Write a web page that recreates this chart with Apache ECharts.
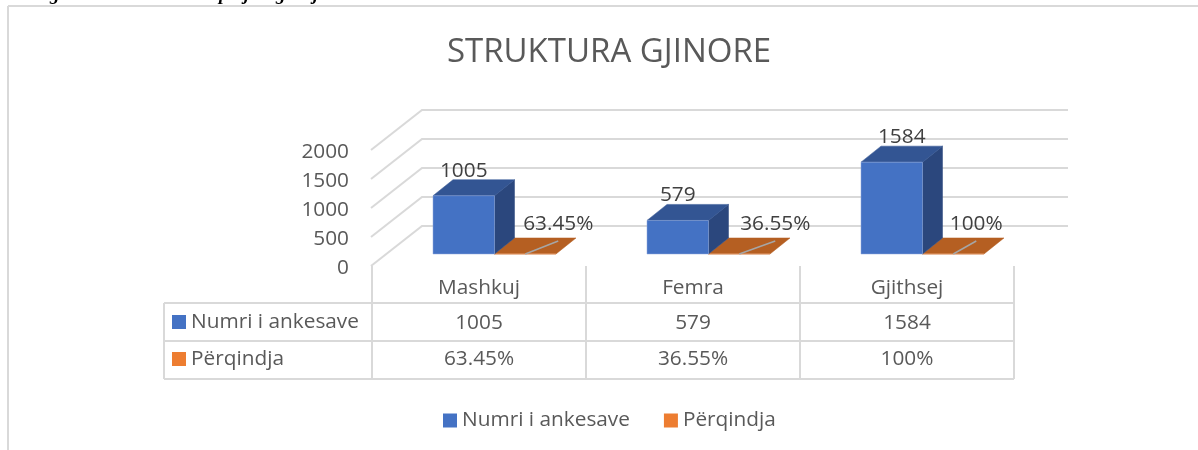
<!DOCTYPE html>
<html>
<head>
<meta charset="utf-8">
<title>STRUKTURA GJINORE</title>
<style>
  html, body { margin: 0; padding: 0; background: #fff; }
  #chart { width: 1198px; height: 450px; }
</style>
<script src="https://cdn.jsdelivr.net/npm/echarts@6/dist/echarts.min.js"></script>
</head>
<body>
<div id="chart"></div>
<script>
// data
const categories = ["Mashkuj", "Femra", "Gjithsej"];
const ankesaValues = [1005, 579, 1584];
const perqindjaValues = [0.6345, 0.3655, 1];
const perqindjaLabels = ["63.45%", "36.55%", "100%"];
const yTicks = [0, 500, 1000, 1500, 2000];
const seriesNames = ["Numri i ankesave", "Përqindja"];
// only the descenders of the caption above the chart are in the crop
const captionLetters = ["g", "p", "j", "g", "j"];

// look
const FONT = "'Open Sans', sans-serif";
const FONT_SIZE = 20.8;
const TEXT = "#595959";
const LABEL = "#404040";
const LINE = "#d9d9d9";
const BLUE = { legend: "#4472C4", front: "#4472C4", top: "#335593", side: "#2B477D", edge: "rgba(143,170,220,0.5)" };
const ORANGE = { legend: "#ED7D31", top: "#B55F22", edge: "#e8a070" };

// layout of the fake 3d box, in px
const GRID = { left: 372, top: 150, width: 642, height: 116 };
const WALL_DX = 51, WALL_DY = 40, WALL_RIGHT = 1068;
const BAR_SHIFT_X = 15.5, BAR_SHIFT_Y = 12, BAR_DX = 20, BAR_DY = 16, BAR_W = 61.5;
const TABLE_ROWS = [303, 341, 379], TABLE_LEFT = 164;
const CAPTION_X = [50, 219, 244, 276, 313];
const Y_LABEL_RIGHT = 349;
// excel moved the labels around a bit, offsets from the front face centre
const ankesaLabelDx = [0, 0, 10];
const perqindjaLabelDx = [33, 36, 23];

function textEl(x, y, text, fill, align) {
  return {
    type: "text",
    silent: true,
    style: {
      x: x, y: y, text: text, fill: fill || TEXT,
      fontFamily: FONT, fontSize: FONT_SIZE,
      align: align || "center", verticalAlign: "middle"
    }
  };
}
function lineEl(x1, y1, x2, y2, color, width) {
  return {
    type: "line",
    silent: true,
    shape: { x1: x1, y1: y1, x2: x2, y2: y2 },
    style: { stroke: color || LINE, lineWidth: width || 2 }
  };
}
function poly(points, fill, stroke) {
  return {
    type: "polygon",
    silent: true,
    shape: { points: points },
    style: { fill: fill, stroke: stroke || fill, lineWidth: stroke ? 1 : 0.5 }
  };
}

// gridline on the floor/back wall plus its tick label, the label sits a bit under the tick
function renderWall(params, api) {
  const p = api.coord([0, api.value(1)]);
  const x = GRID.left - 1, y = p[1];
  return {
    type: "group",
    children: [
      {
        type: "polyline",
        silent: true,
        shape: { points: [[x, y], [x + WALL_DX, y - WALL_DY], [WALL_RIGHT, y - WALL_DY]] },
        style: { stroke: LINE, lineWidth: 2, fill: "none" }
      },
      textEl(Y_LABEL_RIGHT, y + 2, String(api.value(1)), TEXT, "right")
    ]
  };
}

function renderAnkesa(params, api) {
  const i = api.value(0);
  const bottom = api.coord([i, 0]);
  const top = api.coord([i, api.value(1)]);
  const x2 = bottom[0] + BAR_SHIFT_X, x1 = x2 - BAR_W;
  const y1 = top[1] - BAR_SHIFT_Y, y2 = bottom[1] - BAR_SHIFT_Y;
  return {
    type: "group",
    children: [
      poly([[x2, y1], [x2 + BAR_DX, y1 - BAR_DY], [x2 + BAR_DX, y2 - BAR_DY], [x2, y2]], BLUE.side),
      poly([[x1, y1], [x1 + BAR_DX, y1 - BAR_DY], [x2 + BAR_DX, y1 - BAR_DY], [x2, y1]], BLUE.top),
      poly([[x1, y1], [x2, y1], [x2, y2], [x1, y2]], BLUE.front, BLUE.edge),
      textEl((x1 + x2) / 2 + ankesaLabelDx[i], y1 - BAR_DY - 9, String(api.value(1)), LABEL)
    ]
  };
}

function renderPerqindja(params, api) {
  const i = api.value(0);
  const bottom = api.coord([i, 0]);
  const top = api.coord([i, api.value(1)]);
  const x1 = bottom[0] + BAR_SHIFT_X, x2 = x1 + BAR_W;
  const y1 = top[1] - BAR_SHIFT_Y, y2 = bottom[1] - BAR_SHIFT_Y;
  const mid = (x1 + x2) / 2;
  return {
    type: "group",
    children: [
      poly([[x1, y1], [x1 + BAR_DX, y1 - BAR_DY], [x2 + BAR_DX, y1 - BAR_DY], [x2, y1]], ORANGE.top),
      lineEl(x1, y2, x2, y2, ORANGE.edge, 1),
      lineEl(mid, y2, mid + perqindjaLabelDx[i], y2 - 13, "#a6a6a6", 1.5),
      textEl(mid + perqindjaLabelDx[i], y2 - 30, perqindjaLabels[i], LABEL)
    ]
  };
}

// data table under the plot, one column per category
function renderTable(params, api) {
  const i = api.value(0);
  const cx = api.coord([i, 0])[0];
  const band = api.size([1, 0])[0];
  const kids = [
    textEl(cx, (TABLE_ROWS[0] + TABLE_ROWS[1]) / 2 + 1, String(ankesaValues[i])),
    textEl(cx, (TABLE_ROWS[1] + TABLE_ROWS[2]) / 2 - 1, perqindjaLabels[i]),
    lineEl(cx + band / 2, GRID.top + GRID.height, cx + band / 2, TABLE_ROWS[2])
  ];
  if (i === 0) {
    kids.push(lineEl(cx - band / 2, GRID.top + GRID.height, cx - band / 2, TABLE_ROWS[2]));
  }
  return { type: "group", children: kids };
}

const graphics = [
  // chart frame, only top and left are in the crop
  { type: "line", silent: true, shape: { x1: 8, y1: 6, x2: 1198, y2: 6 }, style: { stroke: LINE, lineWidth: 2 } },
  { type: "line", silent: true, shape: { x1: 8, y1: 6, x2: 8, y2: 450 }, style: { stroke: LINE, lineWidth: 2 } }
];
captionLetters.forEach(function (letter, i) {
  graphics.push({
    type: "text", silent: true,
    style: {
      x: CAPTION_X[i], y: 5, text: letter, fill: "#000",
      fontFamily: "'Liberation Serif', serif", fontSize: 19, fontWeight: "bold", fontStyle: "italic",
      align: "left", verticalAlign: "bottom"
    }
  });
});
TABLE_ROWS.forEach(function (y) {
  graphics.push({ type: "line", silent: true, shape: { x1: TABLE_LEFT, y1: y, x2: GRID.left + GRID.width, y2: y }, style: { stroke: LINE, lineWidth: 2 } });
});
graphics.push({ type: "line", silent: true, shape: { x1: TABLE_LEFT, y1: TABLE_ROWS[0], x2: TABLE_LEFT, y2: TABLE_ROWS[2] }, style: { stroke: LINE, lineWidth: 2 } });
seriesNames.forEach(function (name, r) {
  const y = (TABLE_ROWS[r] + TABLE_ROWS[r + 1]) / 2;
  const color = r === 0 ? BLUE.legend : ORANGE.legend;
  graphics.push({ type: "rect", silent: true, shape: { x: 172, y: y - 7 - r, width: 14, height: 14 }, style: { fill: color } });
  graphics.push({
    type: "text", silent: true,
    style: { x: 191, y: y - r, text: name, fill: TEXT, fontFamily: FONT, fontSize: FONT_SIZE, align: "left", verticalAlign: "middle" }
  });
});

const chart = echarts.init(document.getElementById("chart"));
chart.setOption({
  animation: false,
  backgroundColor: "#fff",
  title: {
    text: "STRUKTURA GJINORE",
    left: 608,
    top: 31,
    textAlign: "center",
    textStyle: { color: TEXT, fontFamily: FONT, fontSize: 33, fontWeight: "normal" }
  },
  legend: {
    data: seriesNames,
    left: 438,
    top: 405,
    icon: "rect",
    itemWidth: 14,
    itemHeight: 14,
    itemGap: 34,
    selectedMode: false,
    textStyle: { color: TEXT, fontFamily: FONT, fontSize: FONT_SIZE }
  },
  grid: GRID,
  xAxis: {
    type: "category",
    data: categories,
    axisLine: { show: false },
    axisTick: { show: false },
    axisLabel: { color: TEXT, fontFamily: FONT, fontSize: FONT_SIZE, margin: 12 }
  },
  yAxis: {
    type: "value",
    min: 0,
    max: 2000,
    interval: 500,
    axisLine: { show: false },
    axisTick: { show: false },
    splitLine: { show: false },
    axisLabel: { show: false }
  },
  graphic: graphics,
  series: [
    {
      type: "custom",
      name: "walls",
      renderItem: renderWall,
      encode: { x: 0, y: 1 },
      data: yTicks.map(function (v) { return [0, v]; }),
      z: 1,
      silent: true
    },
    {
      type: "custom",
      name: "table",
      renderItem: renderTable,
      encode: { x: 0, y: 1 },
      data: categories.map(function (c, i) { return [i, 0]; }),
      z: 1,
      silent: true
    },
    {
      type: "custom",
      name: seriesNames[0],
      renderItem: renderAnkesa,
      encode: { x: 0, y: 1 },
      itemStyle: { color: BLUE.legend },
      data: ankesaValues.map(function (v, i) { return [i, v]; }),
      z: 3,
      silent: true
    },
    {
      type: "custom",
      name: seriesNames[1],
      renderItem: renderPerqindja,
      encode: { x: 0, y: 1 },
      itemStyle: { color: ORANGE.legend },
      data: perqindjaValues.map(function (v, i) { return [i, v]; }),
      z: 2,
      silent: true
    }
  ]
});
chart.setOption({ title: { left: 604 } });
</script>
</body>
</html>
